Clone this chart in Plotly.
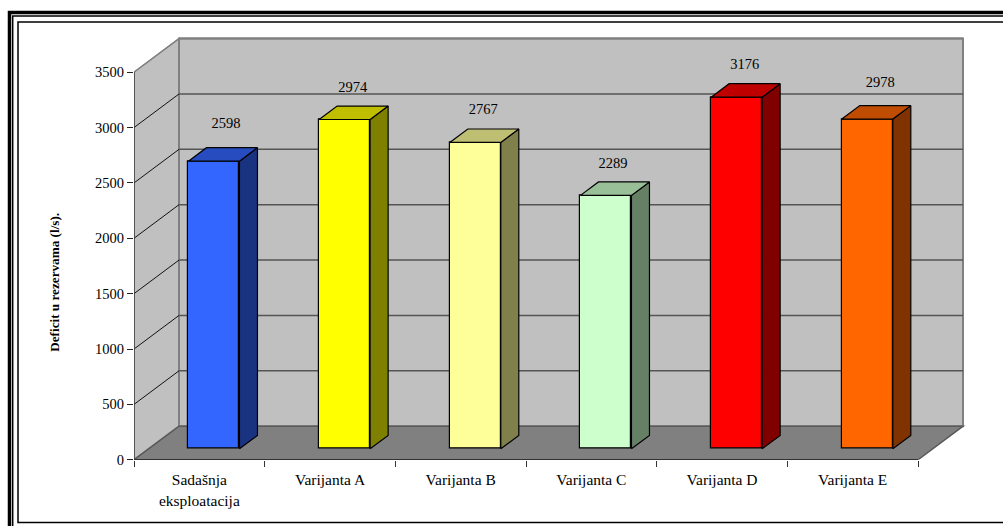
import plotly.graph_objects as go

categories = ["Sadašnja<br>eksploatacija", "Varijanta A", "Varijanta B", "Varijanta C", "Varijanta D", "Varijanta E"]
values = [2598, 2974, 2767, 2289, 3176, 2978]
y_ticks = [0, 500, 1000, 1500, 2000, 2500, 3000, 3500]
face_colors = ["#3366FF", "#FFFF00", "#FFFF99", "#CCFFCC", "#FF0000", "#FF6600"]
top_colors = ["#264CBF", "#BFBF00", "#BFBF73", "#99BF99", "#BF0000", "#BF4C00"]
side_colors = ["#1A3380", "#808000", "#80804D", "#668066", "#800000", "#803300"]
label_dx_px = [12, 8, 8, 7, 8, 13]
label_dy_px = [37, 31, 32, 31, 32, 36]

W, H = 1003, 534
K = 1.018                    # vertical correction measured from the rendered page
X0, Y0 = 134.0, 458.5        # pixel position of the front axis origin
PX_PER_CAT = 130.67
PX_PER_VAL = 386.5 / 3500
DEPTH_PX = (45.0, 33.5)
DX = DEPTH_PX[0] / PX_PER_CAT
DY = DEPTH_PX[1] / PX_PER_VAL
BAR_W = 51 / PX_PER_CAT
BAR_F = 0.325                # depth fraction at which the bar front sits
BAR_D = 0.40                 # depth fraction the bar occupies
XMAX, YMAX = 6.42, 3850

fig = go.Figure()
shapes = []

def py(t):
    return 1 - t * K / H

def poly(pts, fill, line=None, width=1):
    path = "M " + " L ".join(f"{x},{y}" for x, y in pts) + " Z"
    shapes.append(dict(type="path", path=path, xref="x", yref="y", layer="below",
                       fillcolor=fill, line=dict(color=line, width=width) if line else dict(width=0)))

ytop = y_ticks[-1]
n = len(categories)
poly([(0, 0), (DX, DY), (DX, ytop + DY), (0, ytop)], "#C0C0C0", "#808080", 1.5)
poly([(DX, DY), (n + DX, DY), (n + DX, ytop + DY), (DX, ytop + DY)], "#C0C0C0", "#808080", 2)
poly([(0, 0), (n, 0), (n + DX, DY), (DX, DY)], "#808080", "#5A5A5A", 1.5)
for v in y_ticks[1:]:
    shapes.append(dict(type="line", xref="x", yref="y", layer="below", x0=DX, x1=n + DX, y0=v + DY, y1=v + DY,
                       line=dict(color="#555555", width=1.5) if v < ytop else dict(color="#808080", width=2)))
    shapes.append(dict(type="line", xref="x", yref="y", layer="below", x0=0, x1=DX, y0=v, y1=v + DY,
                       line=dict(color="#111111" if v < ytop else "#808080", width=1)))

# front faces
centers = [i + 0.5 + BAR_F * DX for i in range(n)]
fig.add_trace(go.Bar(x=centers, y=values, base=[BAR_F * DY] * n, width=BAR_W,
                     marker=dict(color=face_colors, line=dict(color="#000000", width=1.2)),
                     hoverinfo="skip", showlegend=False))

# side and top faces
for c, v, tc, sc in zip(centers, values, top_colors, side_colors):
    l, r = c - BAR_W / 2, c + BAR_W / 2
    b, t = BAR_F * DY, BAR_F * DY + v
    ox, oy = BAR_D * DX, BAR_D * DY
    fig.add_trace(go.Scatter(x=[r, r + ox, r + ox, r, r], y=[b, b + oy, t + oy, t, b], mode="lines", fill="toself",
                             fillcolor=sc, line=dict(color="#000000", width=1.2), hoverinfo="skip", showlegend=False))
    fig.add_trace(go.Scatter(x=[l, l + ox, r + ox, r, l], y=[t, t + oy, t + oy, t, t], mode="lines", fill="toself",
                             fillcolor=tc, line=dict(color="#000000", width=1.2), hoverinfo="skip", showlegend=False))

# front axis lines, kept on top and unclipped
fig.add_trace(go.Scatter(x=[0, n], y=[0, 0], mode="lines", line=dict(color="#000000", width=1.2),
                         cliponaxis=False, hoverinfo="skip", showlegend=False))
fig.add_trace(go.Scatter(x=[0, 0], y=[0, ytop], mode="lines", line=dict(color="#404040", width=1.5),
                         cliponaxis=False, hoverinfo="skip", showlegend=False))

# value labels
fig.add_trace(go.Scatter(
    x=[i + 0.5 + BAR_F * DX + d / PX_PER_CAT for i, d in enumerate(label_dx_px)],
    y=[v + BAR_F * DY + d / PX_PER_VAL for v, d in zip(values, label_dy_px)],
    mode="text", text=[str(v) for v in values], textposition="middle center",
    textfont=dict(family="Liberation Serif", size=14.5, color="#000000"),
    hoverinfo="skip", showlegend=False))

# picture frame
def frame(l, t, r, b, w):
    shapes.append(dict(type="rect", xref="paper", yref="paper", x0=l / W, x1=r / W, y0=py(t), y1=py(b),
                       layer="above", line=dict(color="#000000", width=w), fillcolor="rgba(0,0,0,0)"))
frame(9.5, 12.5, 1020, 540, 3.5)
frame(12.7, 16, 1020, 540, 1.5)
frame(18, 22, 1020, 521, 1.5)

fig.update_layout(
    width=W, height=H, margin=dict(l=0, r=0, t=0, b=0), paper_bgcolor="#FFFFFF", plot_bgcolor="rgba(0,0,0,0)",
    shapes=shapes, showlegend=False, bargap=0,
    font=dict(family="Liberation Serif", size=14.5, color="#000000"),
    xaxis=dict(domain=[X0 / W, (X0 + XMAX * PX_PER_CAT) / W], range=[0, XMAX], showgrid=False, zeroline=False,
               showline=False, tickmode="array", tickvals=[i + 0.5 for i in range(n)], ticktext=categories,
               ticks="outside", ticklen=6, tickcolor="rgba(0,0,0,0)", tickangle=0,
               tickfont=dict(size=15.5),
               minor=dict(tickmode="array", tickvals=list(range(n + 1)), ticks="outside", ticklen=6,
                          tickcolor="#333333", tickwidth=1, showgrid=False)),
    yaxis=dict(domain=[py(Y0), py(Y0 - YMAX * PX_PER_VAL)], range=[0, YMAX], showgrid=False, zeroline=False,
               showline=False, tickmode="array", tickvals=y_ticks, ticks="outside", ticklen=6, tickcolor="#222222",
               tickwidth=1, ticklabelstandoff=0),
    annotations=[dict(text="<b>Deficit u rezervama (l/s).</b>", textangle=-90, xref="paper", yref="paper",
                      x=55 / W, y=py(282), xanchor="center", yanchor="middle", showarrow=False,
                      font=dict(family="Liberation Serif", size=13.2))],
)

fig.write_html("out.html", config=dict(displayModeBar=False, responsive=False),
               post_script="document.body.style.margin='0';document.body.style.overflow='hidden';")
